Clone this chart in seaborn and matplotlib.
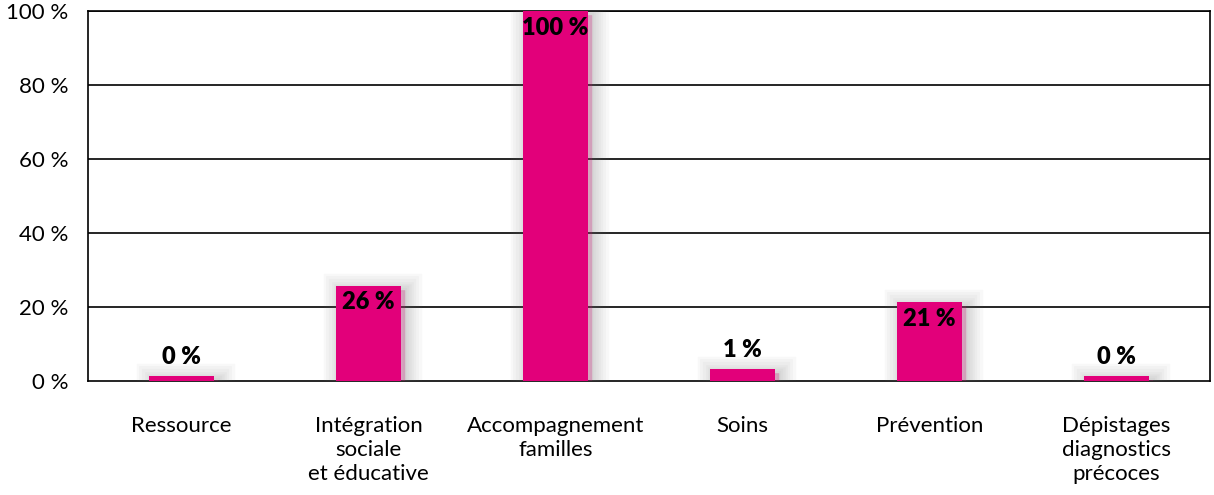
import matplotlib
matplotlib.use("Agg")
import matplotlib.pyplot as plt
import matplotlib.patheffects as pe
import seaborn as sns
import pandas as pd

categories = ["Ressource", "Intégration\nsociale\net éducative", "Accompagnement\nfamilles",
              "Soins", "Prévention", "Dépistages\ndiagnostics\nprécoces"]
heights = [1.4, 25.8, 100, 3.2, 21.4, 1.4]
labels = ["0 %", "26 %", "100 %", "1 %", "21 %", "0 %"]
yticks = [0, 20, 40, 60, 80, 100]

df = pd.DataFrame({"cat": categories, "val": heights})

sns.set_theme(style="white")
plt.rcParams['font.family'] = ['Lato', 'DejaVu Sans']

fig = plt.figure(figsize=(12.14, 4.95), dpi=100)
ax = fig.add_axes([0.0725, 0.2303, 0.9242, 0.7475])

sns.barplot(data=df, x="cat", y="val", color="#E2007A", saturation=1, width=0.35, ax=ax, zorder=3)

# soft blurred glow behind each bar
glow = [pe.Stroke(linewidth=w, foreground="#707070", alpha=0.045, offset=(3, -3))
        for w in (24, 20, 16, 12, 9, 6, 3)]
for p in ax.patches:
    p.set_edgecolor("none")
    p.set_path_effects(glow + [pe.Normal()])

for i, (h, lab) in enumerate(zip(heights, labels)):
    if h > 10:
        ax.text(i, h - 1.6, lab, ha="center", va="top", fontsize=17, fontweight="heavy", color="black", zorder=5)
    else:
        ax.text(i, h + 2.2, lab, ha="center", va="bottom", fontsize=17, fontweight="heavy", color="black", zorder=5)

ax.set_ylim(0, 100)
ax.set_xlim(-0.5, 5.5)
ax.set_yticks(yticks)
ax.set_yticklabels([f"{t} %" for t in yticks])
for t in yticks[1:]:
    ax.axhline(t, color="black", lw=1.2, zorder=1)
ax.set_xlabel("")
ax.set_ylabel("")
ax.tick_params(axis="both", length=0, labelsize=16, colors="black")
ax.tick_params(axis="y", pad=14)
ax.tick_params(axis="x", pad=25)
for lab in ax.get_xticklabels():
    lab.set_linespacing(1.25)
for s in ax.spines.values():
    s.set_visible(True)
    s.set_color("black")
    s.set_linewidth(1.2)

fig.savefig("out.png", dpi=100, facecolor="white")
